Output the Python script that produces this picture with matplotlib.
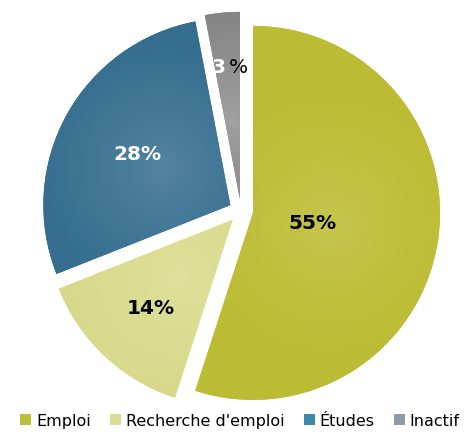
import numpy as np
import matplotlib.pyplot as plt
from matplotlib.patches import Patch
from matplotlib.colors import to_rgb

categories = ["Emploi", "Recherche d'emploi", "Études", "Inactif"]
values = [55, 14, 28, 3]
labels = ["55%", "14%", "28%", "3%"]

# couleurs (bord, centre) pour le dégradé des parts
dark = ["#BCBC34", "#D6D888", "#346D8E", "#808080"]
light = ["#C6C550", "#DFE19D", "#5585A2", "#A2A2A2"]
legend_colors = ["#BDBE3A", "#DADC9A", "#3F87AD", "#8E9AA5"]
label_colors = ["black", "black", "white", "white"]
label_dist = [0.32, 0.64, 0.57, 0.71]

fig = plt.figure(figsize=(4.75, 4.35), dpi=100)
ax = fig.add_axes([0, 0, 1, 1])

wedges, _ = ax.pie(values, colors=dark, startangle=90, counterclock=False,
                   explode=[0.065] * 4, radius=1, wedgeprops=dict(linewidth=0))

r_px = 187
cx, cy = 241, 212
xlim = (-cx / r_px, (475 - cx) / r_px)
ylim = (-(435 - cy) / r_px, cy / r_px)
ax.set_xlim(*xlim)
ax.set_ylim(*ylim)
ax.set_aspect("equal")
ax.axis("off")

# dégradé radial dans chaque part
xs = np.linspace(xlim[0], xlim[1], 500)
ys = np.linspace(ylim[0], ylim[1], 460)
X, Y = np.meshgrid(xs, ys)
for w, c0, c1, lab, col, d in zip(wedges, dark, light, labels, label_colors, label_dist):
    mid = np.deg2rad((w.theta1 + w.theta2) / 2)
    wx, wy = w.center
    gx, gy = wx + 0.42 * np.cos(mid), wy + 0.42 * np.sin(mid)
    t = np.clip(np.hypot(X - gx, Y - gy) / 0.7, 0, 1) ** 0.8
    a, b = np.array(to_rgb(c1)), np.array(to_rgb(c0))
    img = a[None, None, :] * (1 - t[..., None]) + b[None, None, :] * t[..., None]
    im = ax.imshow(img, extent=(xlim[0], xlim[1], ylim[0], ylim[1]),
                   origin="lower", interpolation="bilinear", zorder=2)
    im.set_clip_path(w)

    tx, ty = wx + d * np.cos(mid), wy + d * np.sin(mid)
    if lab == "3%":
        ax.annotate("3", (tx, ty), xytext=(-1, 0), textcoords="offset points",
                    ha="right", va="center", fontsize=14.5, fontweight="bold",
                    color="white", zorder=5)
        ax.annotate("%", (tx, ty), xytext=(1, 0), textcoords="offset points",
                    ha="left", va="center", fontsize=14.5, color="black", zorder=5)
    else:
        ax.text(tx, ty, lab, ha="center", va="center", fontsize=14.5,
                fontweight="bold", color=col, zorder=5)

handles = [Patch(facecolor=c, edgecolor="none") for c in legend_colors]
fig.legend(handles, categories, loc="center", bbox_to_anchor=(0.505, 0.03),
           ncol=4, frameon=False, fontsize=11.5, handlelength=0.7,
           handleheight=0.7, handletextpad=0.3, columnspacing=1.2,
           borderaxespad=0)

fig.savefig("out.png", dpi=100)
